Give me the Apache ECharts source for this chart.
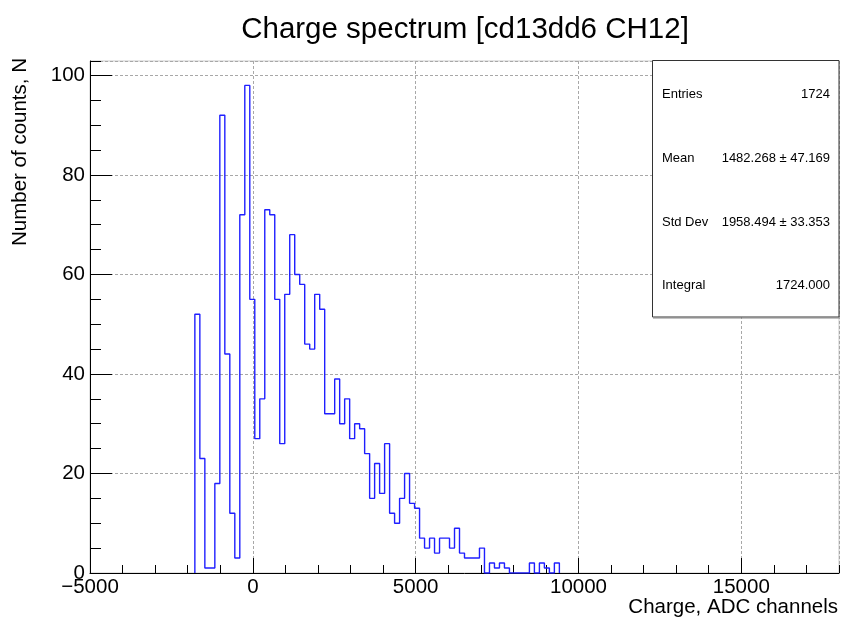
<!DOCTYPE html>
<html>
<head>
<meta charset="utf-8">
<script src="https://cdn.jsdelivr.net/npm/echarts@6/dist/echarts.min.js"></script>
<style>
  html, body { margin: 0; padding: 0; background: #fff; }
  #chart { width: 842px; height: 621px; }
</style>
</head>
<body>
<div id="chart"></div>
<script>
// ---- Histogram definition ----
const HIST_MIN = -5000;
const HIST_MAX = 18000;
const N_BINS = 150;
const FIRST_BIN = 21;            // index of first listed bin
const counts = [
  52, 23, 1, 1, 18, 92, 44, 12, 3, 72, 98, 55, 27, 35, 73, 72, 55, 26, 56, 68,
  60, 58, 46, 45, 56, 53, 32, 32, 39, 30, 35, 27, 30, 29, 24, 15, 22, 16, 26, 12,
  10, 15, 20, 14, 13, 7, 5, 7, 4, 7, 7, 5, 9, 4, 3, 3, 3, 5, 0, 2,
  1, 2, 1, 0, 0, 0, 0, 2, 0, 2, 1, 0, 2
];

// ---- Axis definitions ----
const X_MIN = -5000, X_MAX = 18000, X_MAJOR = 5000, X_MINOR = 1000;
const Y_MIN = 0, Y_MAX = 102.9, Y_MAJOR = 20, Y_MINOR = 5;

// ---- Texts ----
const titleText = 'Charge spectrum [cd13dd6 CH12]';
const xTitle = 'Charge, ADC channels';
const yTitle = 'Number of counts, N';
const statNames = ['Entries', 'Mean', 'Std Dev', 'Integral'];
const statValues = ['1724', '1482.268 \u00b1 47.169', '1958.494 \u00b1 33.353', '1724.000'];

// Build step outline points at bin edges
const binWidth = (HIST_MAX - HIST_MIN) / N_BINS;
const edge = k => HIST_MIN + k * binWidth;
const outline = [[edge(FIRST_BIN), 0]];
counts.forEach((c, i) => outline.push([edge(FIRST_BIN + i), c]));
outline.push([edge(FIRST_BIN + counts.length), 0]);

const FONT = 'Liberation Sans, Arial, Helvetica, sans-serif';
const chart = echarts.init(document.getElementById('chart'), null, { renderer: 'canvas' });

const fmtX = v => (v % X_MAJOR === 0 && v <= 15000) ? String(v).replace('-', '\u2212') : '';
const fmtY = v => (v % Y_MAJOR === 0) ? String(v) : '';

const statGraphics = [];
statGraphics.push({
  type: 'rect', z: 100,
  shape: { x: 652.5, y: 60.5, width: 186.5, height: 256.5 },
  style: { fill: '#fff', stroke: '#333', lineWidth: 1 }
});
statGraphics.push({
  type: 'line', z: 101,
  shape: { x1: 653, y1: 318, x2: 839, y2: 318 },
  style: { stroke: '#888', lineWidth: 1 }
});
const statY = [94, 158, 222, 285];
statNames.forEach((n, i) => {
  statGraphics.push({
    type: 'text', z: 102, x: 662, y: statY[i],
    style: { text: n, fill: '#000', font: '13px ' + FONT, align: 'left', verticalAlign: 'middle' }
  });
  statGraphics.push({
    type: 'text', z: 102, x: 830, y: statY[i],
    style: { text: statValues[i], fill: '#000', font: '13px ' + FONT, align: 'right', verticalAlign: 'middle' }
  });
});

const gridLine = { show: true, lineStyle: { color: '#a8a8a8', type: [3, 2], width: 1 } };

const option = {
  animation: false,
  backgroundColor: '#fff',
  grid: {
    left: 90, right: 3, top: 61, bottom: 48,
    show: true, borderColor: '#c8c8c8', borderWidth: 1, containLabel: false
  },
  xAxis: [
    {
      type: 'value', position: 'bottom', min: X_MIN, max: X_MAX, interval: X_MAJOR,
      axisLine: { show: true, onZero: false, lineStyle: { color: '#000', width: 1 } },
      axisTick: { show: true, inside: true, length: 15, lineStyle: { color: '#000' } },
      axisLabel: { formatter: fmtX, color: '#000', fontSize: 20.5, fontFamily: FONT, margin: 4,
                   showMaxLabel: false },
      splitLine: gridLine
    },
    {
      type: 'value', position: 'bottom', min: X_MIN, max: X_MAX, interval: X_MINOR,
      axisLine: { show: false, onZero: false },
      axisTick: { show: true, inside: true, length: 8, lineStyle: { color: '#000' } },
      axisLabel: { show: false },
      splitLine: { show: false }
    }
  ],
  yAxis: [
    {
      type: 'value', position: 'left', min: Y_MIN, max: Y_MAX, interval: Y_MAJOR,
      axisLine: { show: true, onZero: false, lineStyle: { color: '#000', width: 1 } },
      axisTick: { show: true, inside: true, length: 22, lineStyle: { color: '#000' } },
      axisLabel: { formatter: fmtY, color: '#000', fontSize: 20.5, fontFamily: FONT, margin: 5,
                   showMaxLabel: false },
      splitLine: gridLine
    },
    {
      type: 'value', position: 'left', min: Y_MIN, max: Y_MAX, interval: Y_MINOR,
      axisLine: { show: false, onZero: false },
      axisTick: { show: true, inside: true, length: 11, lineStyle: { color: '#000' } },
      axisLabel: { show: false },
      splitLine: { show: false }
    }
  ],
  series: [{
    type: 'line', xAxisIndex: 0, yAxisIndex: 0,
    step: 'end', showSymbol: false, symbol: 'none',
    data: outline,
    lineStyle: { color: '#1f1fff', width: 1.4 },
    clip: true, z: 5
  }],
  graphic: [
    {
      type: 'text', x: 465, y: 30,
      style: { text: titleText, fill: '#000', font: '29.5px ' + FONT, align: 'center', verticalAlign: 'middle' }
    },
    {
      type: 'text', x: 838, y: 607,
      style: { text: xTitle, fill: '#000', font: '20.5px ' + FONT, align: 'right', verticalAlign: 'middle' }
    },
    {
      type: 'text', x: 20, y: 58, rotation: Math.PI / 2,
      style: { text: yTitle, fill: '#000', font: '20.5px ' + FONT, align: 'right', verticalAlign: 'middle' }
    }
  ].concat(statGraphics)
};
chart.setOption(option);
</script>
</body>
</html>
